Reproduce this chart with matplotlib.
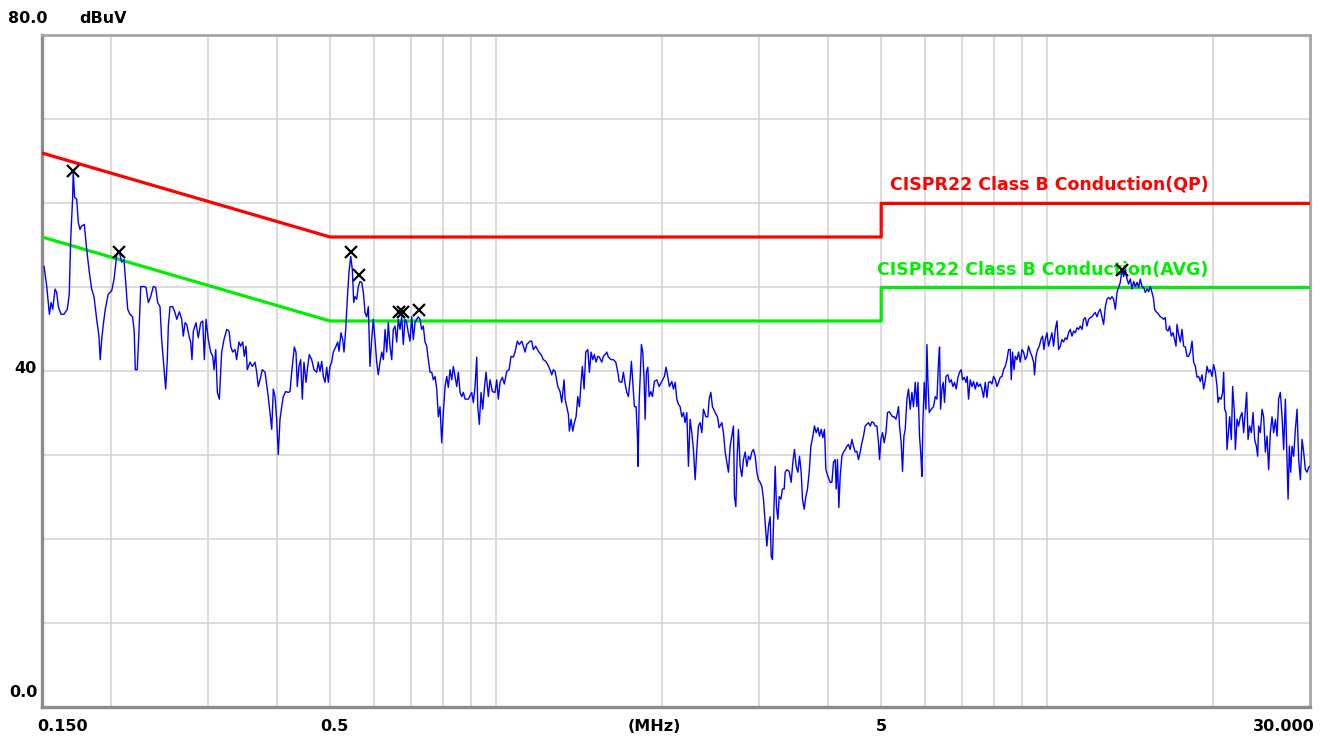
import matplotlib
matplotlib.use("Agg")
import matplotlib.pyplot as plt
from matplotlib.ticker import NullFormatter, NullLocator
from matplotlib.transforms import blended_transform_factory

W, H = 1333, 738

freq_mhz = [
    0.1513, 0.1530, 0.1547, 0.1558, 0.1569, 0.1584, 0.1595, 0.1606, 0.1624, 0.1644,
    0.1667, 0.1681, 0.1691, 0.1705, 0.1709, 0.1719, 0.1734, 0.1746, 0.1758, 0.1770,
    0.1790, 0.1808, 0.1828, 0.1846, 0.1864, 0.1885, 0.1903, 0.1913, 0.1925, 0.1938,
    0.1954, 0.1978, 0.2007, 0.2027, 0.2050, 0.2072, 0.2093, 0.2113, 0.2131, 0.2146,
    0.2166, 0.2190, 0.2205, 0.2215, 0.2233, 0.2249, 0.2266, 0.2297, 0.2316, 0.2339,
    0.2362, 0.2388, 0.2412, 0.2432, 0.2456, 0.2473, 0.2498, 0.2515, 0.2532, 0.2543,
    0.2561, 0.2590, 0.2615, 0.2634, 0.2663, 0.2689, 0.2707, 0.2727, 0.2746, 0.2773,
    0.2792, 0.2807, 0.2823, 0.2855, 0.2882, 0.2911, 0.2936, 0.2956, 0.2977, 0.3005,
    0.3036, 0.3061, 0.3078, 0.3100, 0.3121, 0.3147, 0.3178, 0.3209, 0.3246, 0.3277,
    0.3300, 0.3327, 0.3360, 0.3383, 0.3416, 0.3441, 0.3470, 0.3493, 0.3518, 0.3537,
    0.3577, 0.3612, 0.3653, 0.3679, 0.3703,
    0.3730, 0.3766, 0.3809, 0.3852, 0.3889, 0.3917, 0.3943, 0.3971, 0.3999, 0.4026,
    0.4055, 0.4084, 0.4111, 0.4153, 0.4198, 0.4228, 0.4258, 0.4305, 0.4335, 0.4359,
    0.4390, 0.4421, 0.4451, 0.4482, 0.4520, 0.4553, 0.4583, 0.4629, 0.4674, 0.4727,
    0.4758, 0.4793, 0.4827, 0.4860, 0.4895, 0.4929, 0.4962, 0.4997, 0.5032, 0.5066,
    0.5117, 0.5161, 0.5189, 0.5232, 0.5269, 0.5298, 0.5336, 0.5372, 0.5410, 0.5449,
    0.5486, 0.5518, 0.5548, 0.5587, 0.5625, 0.5665, 0.5705, 0.5744, 0.5785, 0.5826,
    0.5865, 0.5906, 0.5948, 0.5988, 0.6031, 0.6074, 0.6114, 0.6159, 0.6203, 0.6245,
    0.6290, 0.6334, 0.6376, 0.6421, 0.6467, 0.6510, 0.6557, 0.6603, 0.6648, 0.6695,
    0.6743, 0.6788, 0.6837, 0.6885, 0.6931, 0.6981, 0.7031, 0.7078, 0.7129, 0.7179,
    0.7227, 0.7279, 0.7331, 0.7380, 0.7433, 0.7486, 0.7536, 0.7590, 0.7644, 0.7695,
    0.7751, 0.7806, 0.7858, 0.7914, 0.7970, 0.8024, 0.8082, 0.8139, 0.8193, 0.8252,
    0.8311, 0.8367, 0.8427, 0.8486, 0.8543, 0.8604, 0.8665, 0.8724, 0.8786,
    0.8908, 0.9035, 0.9096, 0.9161, 0.9226, 0.9265, 0.9327, 0.9393, 0.9460, 0.9523,
    0.9592, 0.9684, 0.9753, 0.9848, 0.9960, 1.0030, 1.0097, 1.0169, 1.0268, 1.0353,
    1.0458, 1.0560, 1.0648, 1.0750, 1.0828, 1.0932, 1.1024, 1.1134, 1.1210, 1.1290,
    1.1370, 1.1528, 1.1610, 1.1688, 1.1806, 1.1935, 1.2070, 1.2187, 1.2310, 1.2414,
    1.2533, 1.2622, 1.2707, 1.2799, 1.2944, 1.3068, 1.3161, 1.3289, 1.3345, 1.3439,
    1.3529, 1.3587, 1.3683, 1.3780, 1.3873, 1.3972, 1.4073, 1.4167, 1.4268, 1.4346,
    1.4448, 1.4550, 1.4674, 1.4772, 1.4876, 1.4981, 1.5082, 1.5190, 1.5300, 1.5402,
    1.5557, 1.5662, 1.5774, 1.5886, 1.5992, 1.6174, 1.6330, 1.6494, 1.6634, 1.6724,
    1.6913, 1.7027, 1.7150, 1.7271, 1.7387, 1.7511, 1.7607, 1.7709, 1.7828, 1.7956,
    1.8054, 1.8106, 1.8183, 1.8282, 1.8358, 1.8464, 1.8567, 1.8645, 1.8745, 1.8857,
    1.8959, 1.9093, 1.9223, 1.9383, 1.9579, 1.9769, 1.9991, 2.0209, 2.0354, 2.0501,
    2.0638, 2.0845, 2.0986, 2.1137, 2.1286, 2.1429, 2.1582, 2.1735, 2.1882, 2.2040,
    2.2195, 2.2344, 2.2503,
    2.2663, 2.2816, 2.2980, 2.3142, 2.3297, 2.3464, 2.3631, 2.3790, 2.4029, 2.4234,
    2.4365, 2.4536, 2.4702, 2.4984, 2.5223, 2.5404, 2.5691, 2.5865, 2.6051, 2.6234,
    2.6411, 2.6599, 2.6788, 2.6969, 2.7080, 2.7240, 2.7389, 2.7538, 2.7734, 2.7931,
    2.8120, 2.8322, 2.8522, 2.8713, 2.8918, 2.9123, 2.9320, 2.9531, 2.9739, 2.9939,
    3.0153, 3.0367, 3.0572, 3.0792, 3.1009, 3.1217, 3.1440, 3.1572, 3.1745, 3.1930,
    3.2107, 3.2279, 3.2471, 3.2647, 3.2877, 3.3100, 3.3336, 3.3477, 3.3713, 3.4041,
    3.4325, 3.4567, 3.4800, 3.5049, 3.5302, 3.5538, 3.5790, 3.5986, 3.6242, 3.6499,
    3.6745, 3.7009, 3.7270, 3.7582, 3.7835, 3.8106, 3.8381, 3.8637, 3.8911, 3.9186,
    3.9449, 3.9682, 4.0019, 4.0402, 4.0689, 4.0964, 4.1259, 4.1428, 4.1654, 4.1893,
    4.2127, 4.2426, 4.2713, 4.3020, 4.3323, 4.3614, 4.3925, 4.4237, 4.4536, 4.4856,
    4.5172, 4.5476, 4.5800, 4.6125, 4.6437, 4.6771, 4.7101, 4.7417, 4.7755, 4.8094,
    4.8419, 4.8767, 4.9111, 4.9441, 4.9651, 4.9938, 5.0277, 5.0636, 5.0994, 5.1338,
    5.1706, 5.2070, 5.2423, 5.2796, 5.3170, 5.3528, 5.3752, 5.3980, 5.4362, 5.4660,
    5.4980, 5.5283,
    5.5672, 5.6046, 5.6446, 5.6847, 5.7231, 5.7643, 5.8049, 5.8297, 5.8687, 5.9027,
    5.9274, 5.9521, 5.9851, 6.0274, 6.0528, 6.0787, 6.1116, 6.1626, 6.2221, 6.2669,
    6.3111, 6.3534, 6.3804, 6.4071, 6.4442, 6.4794, 6.5146, 6.5530, 6.6087, 6.6529,
    6.6999, 6.7473, 6.7927, 6.8414, 6.8907, 6.9368, 6.9859, 7.0242, 7.0743, 7.1244,
    7.1633, 7.2023, 7.2537, 7.3052, 7.3545, 7.4075, 7.4597, 7.5098, 7.5633, 7.6170,
    7.6684, 7.7236, 7.7781, 7.8303, 7.8862, 7.9422, 7.9958, 8.0534, 8.1102, 8.1646,
    8.2228, 8.2812, 8.3371, 8.3971, 8.4563, 8.5131, 8.5738, 8.6098, 8.6570, 8.7075,
    8.7556, 8.8173, 8.8765, 8.9398, 9.0033, 9.0641, 9.1293, 9.1937, 9.2554, 9.3214,
    9.3876, 9.4510, 9.4901, 9.5461, 9.6104, 9.6794, 9.7475, 9.8136, 9.8709, 9.9254,
    9.9953, 10.062, 10.134, 10.206, 10.275, 10.349, 10.422, 10.492, 10.567, 10.642,
    10.714, 10.791, 10.867, 10.940, 11.018, 11.096, 11.171, 11.252, 11.331, 11.407,
    11.488, 11.570, 11.648, 11.732, 11.814, 11.894, 11.979, 12.064, 12.146, 12.233,
    12.319, 12.402, 12.490, 12.579, 12.664, 12.755, 12.845, 12.931, 13.023, 13.115,
    13.204, 13.299, 13.393, 13.483, 13.579, 13.675, 13.768, 13.867,
    13.965, 14.058, 14.159, 14.260, 14.356, 14.459, 14.561, 14.659, 14.763, 14.868,
    14.968, 15.076, 15.182, 15.284, 15.393, 15.502, 15.607, 15.672, 15.764, 15.850,
    15.936, 16.050, 16.164, 16.273, 16.390, 16.458, 16.576, 16.687, 16.805, 16.924,
    17.038, 17.138, 17.210, 17.326, 17.450, 17.574, 17.693, 17.820, 17.946, 18.066,
    18.195, 18.324, 18.448, 18.581, 18.712, 18.837, 18.971, 19.106, 19.235, 19.373,
    19.510, 19.641, 19.781, 19.921, 20.056, 20.200, 20.343, 20.430, 20.541, 20.686,
    20.826, 20.913, 20.999, 21.123, 21.212, 21.327, 21.445, 21.596, 21.715, 21.869,
    21.962, 22.117, 22.265, 22.424, 22.583, 22.736, 22.899, 23.023, 23.160, 23.314,
    23.479, 23.645, 23.804, 23.975, 24.106, 24.206, 24.379, 24.552, 24.718, 24.896,
    25.071, 25.240, 25.420, 25.600, 25.773, 25.959, 26.142, 26.317, 26.505, 26.693,
    26.873, 27.067, 27.213, 27.374, 27.523, 27.672, 27.832, 28.020, 28.222, 28.421,
    28.612, 28.816, 29.021, 29.217, 29.427, 29.634, 29.833, 30.000,
]
level_dbuv = [
    52.5, 50.1, 46.8, 48.2, 47.4, 49.8, 49.4, 47.7, 46.8, 46.8,
    47.4, 49.2, 55.7, 60.7, 63.8, 60.7, 60.5, 57.7, 56.9, 57.3,
    57.5, 54.5, 51.8, 49.8, 48.9, 46.2, 44.2, 41.4, 43.8, 45.6,
    47.4, 49.2, 49.6, 51.0, 53.9, 54.2, 53.0, 53.3, 50.1, 47.4,
    46.8, 46.5, 44.8, 40.2, 40.2, 44.6, 50.1, 50.1, 50.0, 48.2,
    48.9, 50.1, 50.0, 48.2, 47.7, 43.8, 40.2, 37.9, 41.4, 45.4,
    47.7, 47.7, 47.0, 46.2, 47.1, 46.2, 44.2, 45.8, 45.6, 44.2,
    43.5, 41.4, 44.8, 45.8, 44.0, 45.8, 46.0, 41.4, 46.2, 43.8,
    42.3, 41.8, 40.2, 42.6, 37.5, 36.7, 42.3, 43.8, 45.0, 44.8,
    43.0, 42.3, 42.6, 41.4, 43.5, 43.0, 43.5, 41.8, 43.0, 40.2,
    41.1, 40.6, 41.1, 39.9, 38.2,
    39.0, 40.2, 39.9, 37.5, 35.1, 33.1, 37.9, 37.0, 34.3, 30.1,
    34.3, 35.8, 37.0, 37.6, 37.5, 37.6, 39.9, 42.9, 42.3, 38.2,
    40.6, 41.4, 36.7, 41.1, 38.7, 40.6, 42.0, 41.4, 40.2, 39.9,
    41.1, 40.0, 41.2, 39.4, 38.7, 40.5, 38.7, 40.6, 41.1, 42.3,
    42.9, 43.5, 42.4, 44.6, 43.8, 42.3, 45.0, 48.6, 51.8, 53.7,
    52.1, 48.2, 48.9, 48.6, 50.1, 50.7, 50.6, 49.4, 47.0, 46.5,
    47.7, 40.6, 43.8, 46.2, 43.8, 41.1, 39.6, 41.1, 42.3, 41.4,
    45.0, 42.3, 45.8, 43.0, 41.4, 45.0, 45.4, 43.5, 46.2, 45.0,
    46.5, 43.2, 46.2, 45.8, 44.6, 43.6, 46.5, 43.8, 45.8, 46.2,
    46.5, 46.2, 45.0, 45.4, 43.5, 43.0, 41.4, 39.9, 39.9, 39.0,
    39.4, 37.9, 34.6, 35.8, 31.5, 35.1, 38.2, 39.4, 38.1, 40.2,
    39.0, 40.6, 39.4, 38.2, 39.9, 37.5, 37.0, 37.5, 36.7,
    36.7, 37.5, 36.3, 38.2, 41.7, 35.8, 33.7, 37.5, 35.5, 37.9,
    39.9, 37.0, 39.0, 37.6, 37.5, 39.0, 36.7, 38.7, 39.3, 38.5,
    40.0, 40.2, 41.8, 41.7, 42.3, 43.6, 43.2, 43.6, 43.0, 42.3,
    43.2, 43.6, 43.6, 42.6, 43.0, 42.4, 42.0, 41.4, 41.2, 40.8,
    40.2, 39.6, 40.2, 40.0, 38.2, 37.6, 36.3, 39.0, 36.7, 35.8,
    34.9, 32.9, 34.3, 32.9, 33.9, 34.6, 37.0, 35.8, 38.7, 40.6,
    37.9, 42.3, 42.6, 39.9, 42.3, 41.4, 42.0, 41.1, 41.8, 41.7,
    41.1, 41.8, 42.0, 42.3, 41.7, 41.4, 41.4, 41.1, 39.9, 38.8,
    38.7, 39.9, 38.5, 37.5, 37.0, 39.0, 41.2, 38.7, 35.8, 35.8,
    32.3, 28.7, 36.3, 39.9, 43.2, 42.3, 39.0, 34.3, 39.9, 40.5,
    37.0, 37.6, 37.0, 38.8, 39.0, 38.2, 38.8, 39.4, 40.5, 39.3,
    38.2, 38.8, 37.9, 38.7, 36.7, 36.1, 35.8, 34.6, 35.1, 33.9,
    35.1, 28.7, 34.3,
    32.7, 30.7, 27.1, 30.7, 33.5, 33.9, 32.7, 35.5, 34.6, 34.6,
    36.7, 37.5, 35.8, 35.1, 34.6, 33.3, 33.9, 32.7, 30.4, 29.2,
    28.0, 31.1, 32.3, 33.5, 25.1, 23.9, 29.9, 33.1, 28.7, 27.5,
    29.5, 30.4, 28.7, 29.9, 29.5, 30.4, 30.7, 29.9, 28.0, 27.1,
    26.8, 26.3, 24.8, 22.0, 19.2, 21.5, 22.7, 18.0, 17.6, 23.2,
    28.7, 23.9, 22.4, 25.1, 24.8, 26.0, 26.0, 28.0, 28.3, 28.1,
    26.8, 29.2, 30.7, 28.7, 28.0, 29.9, 28.0, 24.8, 23.6, 25.1,
    26.0, 28.0, 31.1, 32.3, 33.5, 32.7, 33.3, 32.3, 33.1, 32.1,
    33.1, 28.3, 27.5, 26.8, 26.8, 29.2, 29.5, 26.0, 29.5, 23.8,
    27.5, 29.9, 30.4, 30.7, 31.1, 31.3, 30.7, 31.9, 31.1, 30.4,
    30.5, 29.5, 30.4, 31.5, 32.3, 33.5, 33.7, 33.9, 33.5, 34.0,
    33.9, 33.5, 33.5, 31.5, 29.5, 31.9, 32.7, 31.5, 32.7, 35.1,
    35.2, 34.9, 34.6, 34.6, 34.3, 35.1, 35.8, 33.5, 31.5, 28.1,
    32.3, 33.1,
    36.7, 37.9, 35.5, 37.5, 35.8, 38.7, 35.8, 38.7, 32.3, 29.9,
    27.5, 33.9, 38.7, 35.5, 43.2, 38.7, 35.1, 35.5, 35.8, 37.0,
    36.7, 41.1, 42.9, 35.5, 37.9, 38.7, 36.3, 39.4, 39.6, 38.7,
    39.0, 38.2, 38.7, 37.9, 39.3, 39.9, 40.2, 39.0, 39.3, 38.7,
    39.4, 36.7, 39.0, 38.2, 38.8, 37.9, 38.7, 38.2, 38.5, 37.9,
    36.9, 38.7, 36.9, 38.7, 38.8, 38.5, 39.4, 39.0, 38.2, 38.7,
    39.3, 39.4, 40.2, 40.6, 41.4, 42.6, 42.6, 39.0, 42.3, 40.2,
    41.8, 41.4, 42.3, 41.1, 42.6, 42.3, 41.4, 41.8, 43.0, 42.3,
    41.8, 41.1, 39.6, 41.8, 42.6, 43.0, 43.8, 44.2, 42.6, 43.8,
    44.6, 43.0, 43.8, 44.6, 43.0, 45.0, 46.0, 42.6, 43.0, 43.8,
    43.5, 44.0, 43.8, 44.6, 45.0, 44.2, 44.8, 44.6, 45.2, 45.0,
    45.4, 45.0, 46.2, 46.4, 45.4, 46.2, 46.4, 46.5, 46.8, 47.0,
    46.5, 47.1, 47.4, 46.5, 45.6, 47.7, 48.6, 48.8, 48.6, 48.9,
    48.6, 47.4, 49.4, 50.0, 50.6, 52.1, 51.3, 52.1,
    51.0, 50.4, 51.0, 49.8, 50.7, 50.1, 50.6, 50.0, 51.0, 50.1,
    50.0, 49.4, 49.8, 49.5, 50.1, 49.4, 48.6, 47.4, 47.1, 47.0,
    46.8, 46.5, 46.4, 46.2, 46.4, 45.0, 44.8, 45.4, 44.2, 44.6,
    43.8, 43.0, 45.6, 44.4, 43.5, 45.0, 43.0, 42.9, 41.8, 41.8,
    42.3, 43.6, 41.1, 40.6, 39.3, 39.4, 38.8, 39.6, 37.9, 39.0,
    40.6, 39.9, 40.2, 39.4, 40.8, 39.9, 38.2, 36.3, 36.9, 36.7,
    37.5, 39.9, 35.5, 35.1, 30.7, 32.7, 34.6, 31.9, 38.2, 35.1,
    30.7, 34.3, 33.5, 34.6, 35.1, 32.7, 35.5, 37.5, 31.9, 33.5,
    32.7, 35.1, 31.9, 31.1, 29.9, 33.5, 32.7, 35.5, 34.6, 30.4,
    32.3, 28.3, 32.7, 34.6, 32.7, 34.3, 32.3, 36.7, 37.5, 34.6,
    30.7, 36.7, 31.1, 24.8, 31.1, 28.0, 31.1, 29.9, 33.1, 35.5,
    29.5, 27.1, 31.9, 30.4, 28.3, 28.0, 28.6, 28.7,
]

# CISPR22 class B conducted limits
qp_freq = [0.15, 0.5, 5.0, 5.0, 30.0]
qp_level = [66.0, 56.0, 56.0, 60.0, 60.0]
avg_freq = [0.15, 0.5, 5.0, 5.0, 30.0]
avg_level = [56.0, 46.0, 46.0, 50.0, 50.0]

# peak markers
peak_freq = [0.1709, 0.2072, 0.5449, 0.5640, 0.6667, 0.6780, 0.7250, 13.70]
peak_level = [63.8, 54.2, 54.2, 51.5, 47.1, 47.1, 47.3, 52.1]

grid_freq = [0.2, 0.3, 0.4, 0.5, 0.6, 0.7, 0.8, 0.9, 1.0,
             2.0, 3.0, 4.0, 5.0, 6.0, 7.0, 8.0, 9.0, 10.0, 20.0]
grid_level = [10, 20, 30, 40, 50, 60, 70]

x_tick_freq = [0.15, 0.5, 5.0, 30.0]
x_tick_text = ["0.150", "0.5", "5", "30.000"]

fig = plt.figure(figsize=(W / 100, H / 100), dpi=100)
fig.patch.set_facecolor("white")
ax = fig.add_axes([42 / W, (H - 707.4) / H, 1268 / W, 672 / H])

ax.set_xscale("log")
ax.set_xlim(0.15, 30.0)
ax.set_ylim(0, 80)
ax.set_xticks(grid_freq)
ax.xaxis.set_minor_locator(NullLocator())
ax.xaxis.set_major_formatter(NullFormatter())
ax.xaxis.set_minor_formatter(NullFormatter())
ax.set_yticks(grid_level)
ax.tick_params(which="both", length=0, labelbottom=False, labelleft=False)
ax.grid(True, color="#d2d2d2", linewidth=1.1)
ax.set_axisbelow(True)

for side in ["left", "bottom"]:
    ax.spines[side].set_color("#8c8c8c")
    ax.spines[side].set_linewidth(2.4)
for side in ["top", "right"]:
    ax.spines[side].set_color("#a6a6a6")
    ax.spines[side].set_linewidth(2.0)

ax.plot(qp_freq, qp_level, color="#ff0000", linewidth=2.3, zorder=3)
ax.plot(avg_freq, avg_level, color="#00ee00", linewidth=2.3, zorder=3)
ax.plot(freq_mhz, level_dbuv, color="#0000ff", linewidth=1.0, zorder=4)

bold = dict(fontweight="bold", family="DejaVu Sans")
ax.text(19.6, 61.6, "CISPR22 Class B Conduction(QP)", color="#ff0000",
        ha="right", va="baseline", fontsize=12.5, zorder=2, **bold)
ax.text(19.6, 51.5, "CISPR22 Class B Conduction(AVG)", color="#00ee00",
        ha="right", va="baseline", fontsize=12.5, zorder=2, **bold)

ax.plot(peak_freq, peak_level, linestyle="none", marker="x", color="black",
        markersize=8, markeredgewidth=1.6, zorder=5)

# axis labels drawn like the receiver software
fig.text(8 / W, 1 - 23 / H, "80.0", ha="left", va="baseline", fontsize=11.5, **bold)
fig.text(79 / W, 1 - 23 / H, "dBuV", ha="left", va="baseline", fontsize=11.5, **bold)
fig.text(37 / W, 1 - 373 / H, "40", ha="right", va="baseline", fontsize=11.5, **bold)
fig.text(38 / W, 1 - 697 / H, "0.0", ha="right", va="baseline", fontsize=11.5, **bold)

trans = blended_transform_factory(ax.transData, fig.transFigure)
for f, label in zip(x_tick_freq, x_tick_text):
    ha = "center"
    if label == "0.150":
        ha = "left"
    elif label == "30.000":
        ha = "right"
    xoff = {"0.150": 0.98, "0.5": 1.02, "5": 1.0, "30.000": 1.02}[label]
    ax.text(f * xoff, 1 - 731 / H, label, transform=trans, ha=ha, va="baseline",
            fontsize=11.5, clip_on=False, **bold)
fig.text(654 / W, 1 - 731 / H, "(MHz)", ha="center", va="baseline", fontsize=11.5, **bold)

fig.savefig("out.png", dpi=100, facecolor="white")
